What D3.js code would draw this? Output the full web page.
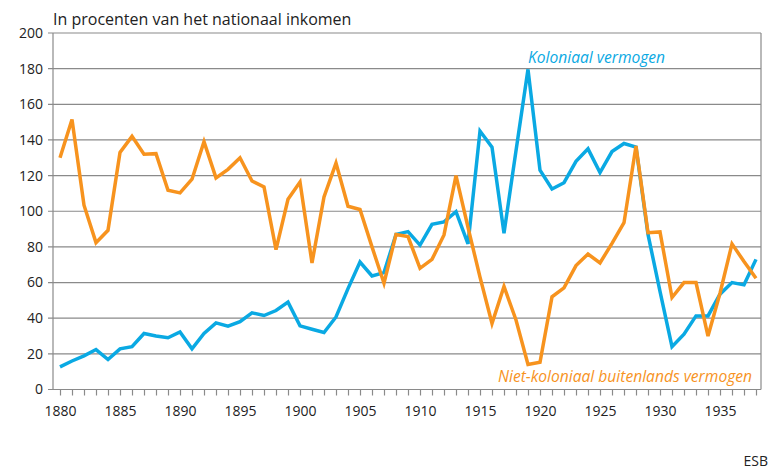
<!DOCTYPE html>
<html>
<head>
<meta charset="utf-8">
<script src="https://cdn.jsdelivr.net/npm/d3@7"></script>
<style>
  body { margin: 0; background: #fff; }
  svg text { font-family: "Open Sans", "Noto Sans", sans-serif; fill: #222; }
</style>
</head>
<body>
<div id="chart"></div>
<script>
const years = d3.range(1880, 1939);

// Koloniaal vermogen (% of national income)
const koloniaal = [
  12.7, 16, 18.9, 22.4, 16.8, 22.8, 24, 31.4, 30, 29,
  32.3, 22.8, 31.4, 37.4, 35.5, 38, 43, 41.5, 44.3, 49,
  35.7, 33.8, 32, 40.7, 56.6, 71.5, 63.7, 65.6, 87, 88.6,
  81, 92.7, 94, 99.8, 81.7, 145, 136, 87.7, 134, 179.6,
  123, 112.5, 116, 128, 135, 121.7, 133.5, 138, 136, 87,
  55, 24, 31, 41.3, 41.3, 53.5, 60, 58.7, 73
];

// Niet-koloniaal buitenlands vermogen
const nietKoloniaal = [
  130, 151.5, 103.4, 82.4, 89.3, 133, 142, 132, 132.3, 111.8,
  110.3, 118, 139, 118.7, 123.5, 130, 117, 113.6, 78.5, 106.7,
  116.4, 71, 108, 127, 102.8, 101, 80, 59.6, 87, 85.8,
  68, 73, 86.7, 120, 91, 63, 37, 57.8, 39, 14,
  15.3, 52, 57, 69.5, 76, 71, 82, 93.6, 136.6, 88,
  88.4, 51.6, 60, 60, 30, 54, 81.7, 71.8, 62.4
];

const yTicks = [0, 20, 40, 60, 80, 100, 120, 140, 160, 180, 200];
const xLabels = [1880, 1885, 1890, 1895, 1900, 1905, 1910, 1915, 1920, 1925, 1930, 1935];

const W = 781, H = 474;
const plotLeft = 53, plotRight = 761, plotTop = 33, plotBottom = 389.5;

const svg = d3.select('#chart').append('svg')
  .attr('width', W).attr('height', H);

const x = d3.scaleLinear().domain([1880, 1938]).range([60, 756]);
const y = d3.scaleLinear().domain([0, 200]).range([plotBottom, plotTop]);

// gridlines
svg.append('g')
  .selectAll('line')
  .data(yTicks)
  .enter().append('line')
  .attr('x1', plotLeft - 5).attr('x2', plotRight)
  .attr('y1', d => y(d)).attr('y2', d => y(d))
  .attr('stroke', '#8a8a8a')
  .attr('stroke-width', 1.2);

// left + right frame
svg.append('line').attr('x1', plotLeft).attr('x2', plotLeft).attr('y1', plotTop).attr('y2', plotBottom)
  .attr('stroke', '#8a8a8a').attr('stroke-width', 1.2);
svg.append('line').attr('x1', plotRight).attr('x2', plotRight).attr('y1', plotTop).attr('y2', plotBottom)
  .attr('stroke', '#8a8a8a').attr('stroke-width', 1.2);

// y labels
svg.append('g')
  .selectAll('text')
  .data(yTicks)
  .enter().append('text')
  .attr('x', 43)
  .attr('y', d => y(d))
  .attr('dy', '0.35em')
  .attr('text-anchor', 'end')
  .style('font-size', '14px')
  .text(d => d);

// x axis ticks (every year)
const xAxis = d3.axisBottom(x)
  .tickValues(years)
  .tickSize(6)
  .tickFormat(d => xLabels.includes(d) ? d : '');
const gx = svg.append('g')
  .attr('transform', `translate(0,${plotBottom})`)
  .call(xAxis);
gx.select('.domain').remove();
gx.selectAll('.tick line').attr('stroke', '#8a8a8a').attr('stroke-width', 1.2);
gx.selectAll('.tick text')
  .attr('y', 17)
  .style('font-size', '14px')
  .style('font-family', '"Open Sans", sans-serif')
  .attr('fill', '#222');

const line = d3.line()
  .x((d, i) => x(years[i]))
  .y(d => y(d));

svg.append('path')
  .datum(koloniaal)
  .attr('d', line)
  .attr('fill', 'none')
  .attr('stroke', '#0aa9e3')
  .attr('stroke-width', 3.5)
  .attr('stroke-linejoin', 'miter');

svg.append('path')
  .datum(nietKoloniaal)
  .attr('d', line)
  .attr('fill', 'none')
  .attr('stroke', '#f7931e')
  .attr('stroke-width', 3.5)
  .attr('stroke-linejoin', 'miter');

// title
svg.append('text')
  .attr('x', 53).attr('y', 25)
  .style('font-size', '16px')
  .text('In procenten van het nationaal inkomen');

// series labels
svg.append('text')
  .attr('x', 528).attr('y', 63)
  .style('font-size', '15.6px')
  .style('font-style', 'italic')
  .style('fill', '#0aa9e3')
  .text('Koloniaal vermogen');

svg.append('text')
  .attr('x', 752).attr('y', 382)
  .attr('text-anchor', 'end')
  .style('font-size', '15.6px')
  .style('font-style', 'italic')
  .style('fill', '#f7931e')
  .text('Niet-koloniaal buitenlands vermogen');

svg.append('text')
  .attr('x', 768).attr('y', 466)
  .attr('text-anchor', 'end')
  .style('font-size', '14px')
  .text('ESB');
</script>
</body>
</html>
